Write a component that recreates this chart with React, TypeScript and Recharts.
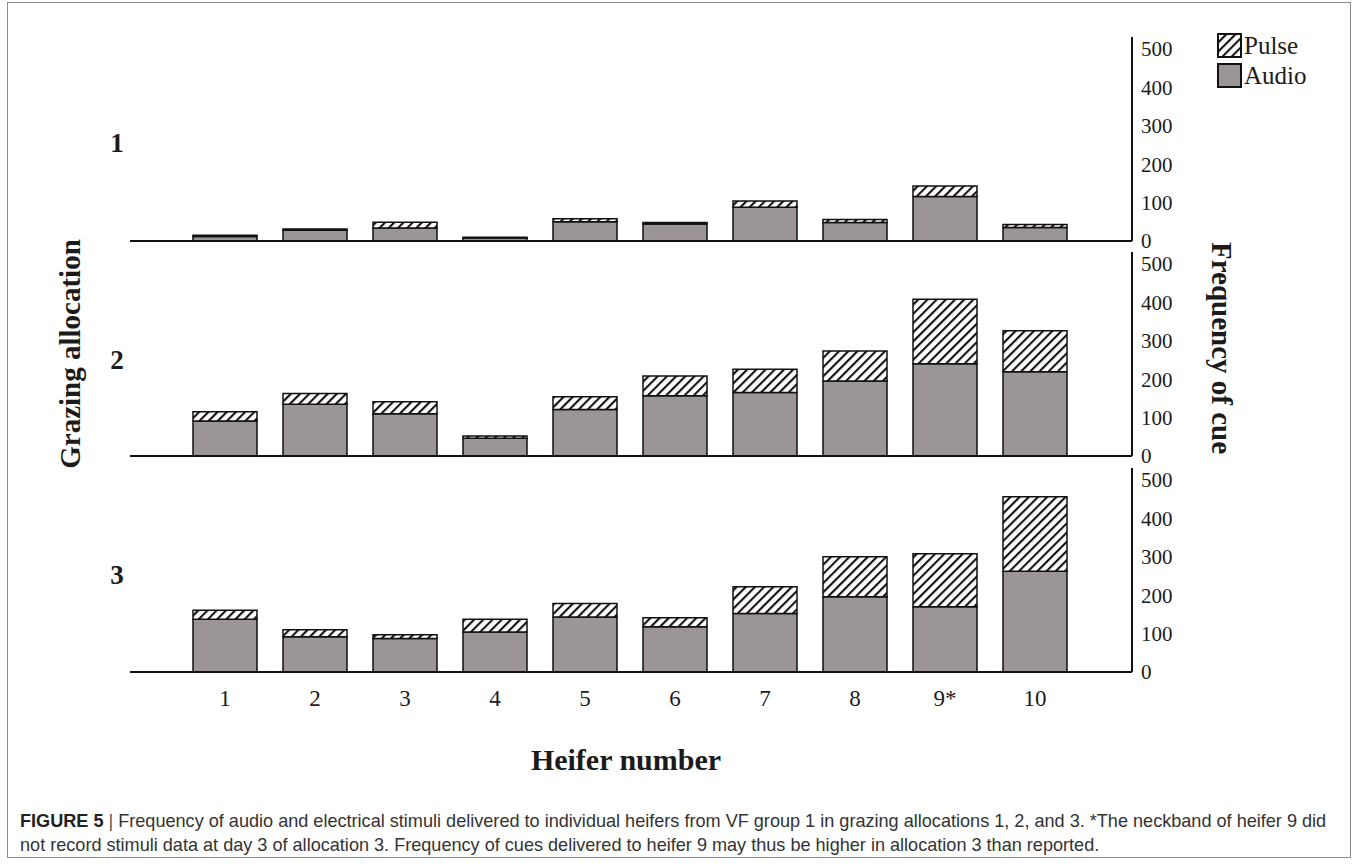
import React from "react";
import { BarChart, Bar, XAxis, YAxis, Legend } from "recharts";

// heifer ids along the x axis
const heifers = ["1", "2", "3", "4", "5", "6", "7", "8", "9*", "10"];

// allocation 1
const audio1 = [12, 28, 34, 8, 50, 44, 88, 48, 116, 35];
const pulse1 = [3, 3, 15, 2, 8, 4, 16, 8, 27, 8];
// allocation 2
const audio2 = [91, 135, 110, 46, 121, 157, 165, 195, 240, 219];
const pulse2 = [24, 28, 31, 6, 33, 51, 61, 78, 168, 107];
// allocation 3
const audio3 = [137, 92, 87, 104, 143, 118, 152, 196, 170, 262];
const pulse3 = [24, 18, 10, 33, 35, 23, 70, 104, 138, 194];

const yTicks = [0, 100, 200, 300, 400, 500];

const SERIF = "'Liberation Serif', 'Times New Roman', serif";
const INK = "#1b1b1b";
const GREY = "#9b9595";

const build = (audio: number[], pulse: number[]) =>
  heifers.map((name, i) => ({ name, audio: audio[i], pulse: pulse[i] }));

const Hatch = ({ id }: { id: string }) => (
  <defs>
    <pattern id={id} patternUnits="userSpaceOnUse" width="6.5" height="6.5" patternTransform="rotate(45)">
      <rect width="6.5" height="6.5" fill="#fff" />
      <line x1="1" y1="0" x2="1" y2="6.5" stroke="#111" strokeWidth="2.2" />
    </pattern>
  </defs>
);

const LegendBox = () => (
  <div style={{ fontFamily: SERIF, fontSize: 25, color: INK, lineHeight: "30px" }}>
    {[
      { label: "Pulse", fill: "url(#hatch-legend)" },
      { label: "Audio", fill: GREY },
    ].map((it) => (
      <div key={it.label} style={{ display: "flex", alignItems: "center" }}>
        <svg width={26} height={26} style={{ marginRight: 1 }}>
          <Hatch id="hatch-legend" />
          <rect x={1} y={1} width={23} height={23} fill={it.fill} stroke="#111" strokeWidth={2} />
        </svg>
        <span>{it.label}</span>
      </div>
    ))}
  </div>
);

interface PanelProps {
  audio: number[];
  pulse: number[];
  top: number;
  id: string;
  showTicks?: boolean;
  showLegend?: boolean;
}

const Panel = ({ audio, pulse, top, id, showTicks, showLegend }: PanelProps) => (
  <div style={{ position: "absolute", left: 0, top }}>
    <BarChart
      width={1358}
      height={showTicks ? 254 : 230}
      data={build(audio, pulse)}
      margin={{ top: 10, right: 166, left: 130, bottom: 0 }}
      barSize={64}
    >
      <Hatch id={id} />
      <XAxis
        dataKey="name"
        height={showTicks ? 40 : 16}
        padding={{ left: 50, right: 52 }}
        axisLine={{ stroke: "#111", strokeWidth: 2 }}
        tickLine={false}
        tickSize={0}
        tickMargin={18}
        tick={showTicks ? { fill: INK, fontSize: 23, fontFamily: SERIF } : false}
      />
      <YAxis
        orientation="right"
        width={60}
        domain={[0, 531]}
        ticks={yTicks}
        interval={0}
        axisLine={{ stroke: "#111", strokeWidth: 2 }}
        tickLine={false}
        tickSize={0}
        tickMargin={9}
        tick={{ fill: INK, fontSize: 21, fontFamily: SERIF }}
      />
      {showLegend && (
        <Legend
          layout="vertical"
          align="center"
          verticalAlign="middle"
          content={() => <LegendBox />}
          wrapperStyle={{ left: 1217, top: 4, width: "auto", height: "auto" }}
        />
      )}
      <Bar dataKey="audio" stackId="s" fill={GREY} stroke="#111" strokeWidth={1.5} isAnimationActive={false} />
      <Bar dataKey="pulse" stackId="s" fill={`url(#${id})`} stroke="#111" strokeWidth={1.5} isAnimationActive={false} />
    </BarChart>
  </div>
);

const Txt = ({
  x,
  y,
  rot = 0,
  style,
  children,
}: {
  x: number;
  y: number;
  rot?: number;
  style?: React.CSSProperties;
  children: React.ReactNode;
}) => (
  <div
    style={{
      position: "absolute",
      left: x,
      top: y,
      transform: `translate(-50%, -50%) rotate(${rot}deg)`,
      whiteSpace: "nowrap",
      color: INK,
      fontFamily: SERIF,
      ...style,
    }}
  >
    {children}
  </div>
);

const bold = { fontWeight: 700, fontSize: 29 };

export default function App() {
  return (
    <div style={{ position: "absolute", left: 0, top: 0, width: 1358, height: 864, background: "#fff", overflow: "hidden" }}>
      {/* figure frame */}
      <div style={{ position: "absolute", left: 7, top: 2, width: 1342, height: 854, border: "1.5px solid #8a8a8a" }} />

      <Panel audio={audio1} pulse={pulse1} top={27} id="hatch1" showLegend />
      <Panel audio={audio2} pulse={pulse2} top={242} id="hatch2" />
      <Panel audio={audio3} pulse={pulse3} top={458} id="hatch3" showTicks />

      <Txt x={117} y={143} style={{ ...bold, fontSize: 27 }}>1</Txt>
      <Txt x={117} y={360} style={{ ...bold, fontSize: 27 }}>2</Txt>
      <Txt x={117} y={575} style={{ ...bold, fontSize: 27 }}>3</Txt>

      <Txt x={70} y={354} rot={-90} style={bold}>Grazing allocation</Txt>
      <Txt x={1221} y={348} rot={90} style={bold}>Frequency of cue</Txt>
      <Txt x={626} y={760} style={{ ...bold, fontSize: 30 }}>Heifer number</Txt>

      <div
        style={{
          position: "absolute",
          left: 20,
          top: 809,
          fontFamily: "'Liberation Sans', Arial, sans-serif",
          fontSize: 18.1,
          lineHeight: "24px",
          color: "#333",
          whiteSpace: "nowrap",
        }}
      >
        <b style={{ color: "#222" }}>FIGURE 5</b> <span style={{ color: "#555" }}>|</span> Frequency of audio and electrical
        stimuli delivered to individual heifers from VF group 1 in grazing allocations 1, 2, and 3. *The neckband of
        heifer 9 did
        <br />
        not record stimuli data at day 3 of allocation 3. Frequency of cues delivered to heifer 9 may thus be higher in
        allocation 3 than reported.
      </div>
    </div>
  );
}
